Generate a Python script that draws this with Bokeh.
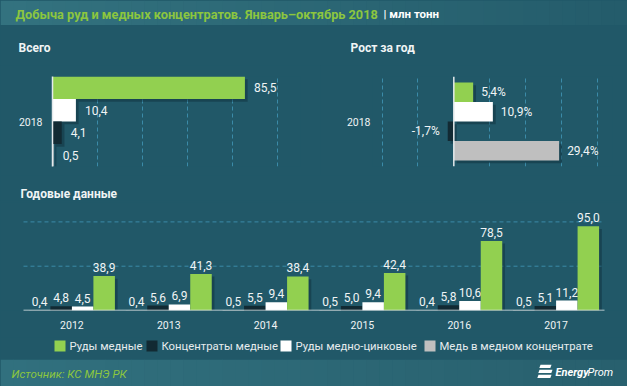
import numpy as np
from bokeh.plotting import figure
from bokeh.models import (ColumnDataSource, FactorRange, Range1d, FixedTicker, Grid, Span)
from bokeh.transform import dodge
from bokeh.layouts import column, row
from bokeh.core.properties import value
from bokeh.embed import file_html
from bokeh.resources import INLINE

# ---------------- data ----------------
title_main = "Добыча руд и медных концентратов. Январь–октябрь 2018"
title_unit = "| млн тонн"
panel_total = "Всего"
panel_growth = "Рост за год"
panel_annual = "Годовые данные"
source_note = "Источник: КС МНЭ РК"
brand_a = "Energy"
brand_b = "Prom"

series = ["Руды медные", "Концентраты медные", "Руды медно-цинковые", "Медь в медном концентрате"]
period = ["2018"]
total_2018 = [85.5, 4.1, 10.4, 0.5]      # ore, conc, cuzn, cu
growth_2018 = [5.4, -1.7, 10.9, 29.4]    # ore, conc, cuzn, cu

years = ["2012", "2013", "2014", "2015", "2016", "2017"]
ore_copper = [38.9, 41.3, 38.4, 42.4, 78.5, 95.0]
conc_copper = [4.8, 5.6, 5.5, 5.0, 5.8, 5.1]
ore_cuzn = [4.5, 6.9, 9.4, 9.4, 10.6, 11.2]
cu_in_conc = [0.4, 0.4, 0.5, 0.5, 0.4, 0.5]

total_ticks = [20, 40, 60, 80, 100]
growth_ticks = [-20, -10, 10, 20, 30, 40]
annual_ticks = [50, 100]

# ---------------- style ----------------
BG = "#215868"
GREEN = "#92d050"
DARK = "#122a33"
WHITE = "#ffffff"
GRAY = "#bfbfbf"
GRID = "#3b8ba8"
TXT = "#f0f4f5"
AXIS = "#e4eaec"
TITLE_GREEN = "#8cc63f"
SHADOW = "#08202a"
FONT = "Roboto"
W = 627
keys = ["ore", "conc", "cuzn", "cu"]
colors = {"ore": GREEN, "conc": DARK, "cuzn": WHITE, "cu": GRAY}


def fmt(v, suffix=""):
    return f"{v:.1f}".replace(".", ",") + suffix


def base(width, height, **kw):
    p = figure(width=width, height=height, output_backend="svg",
               toolbar_location=None, **kw)
    p.background_fill_color = BG
    p.border_fill_color = BG
    p.outline_line_color = None
    return p


def strip(width, height):
    return base(width, height, x_range=Range1d(0, width), y_range=Range1d(0, height),
                x_axis_type=None, y_axis_type=None, min_border=0)


def gradient(p, width, height, c0, c1, n=48):
    edges = np.linspace(0, width, n + 1)
    a = np.array([int(c0[i:i + 2], 16) for i in (1, 3, 5)], dtype=float)
    b = np.array([int(c1[i:i + 2], 16) for i in (1, 3, 5)], dtype=float)
    cols = ["#%02x%02x%02x" % tuple(int(round(v)) for v in a + (b - a) * t)
            for t in np.linspace(0, 1, n)]
    p.quad(left=edges[:-1], right=edges[1:] + 0.5, bottom=0, top=height,
           fill_color=cols, line_color=None)


def style_text(**kw):
    d = dict(text_font=value(FONT), text_color=TXT, text_font_size="12px")
    d.update(kw)
    return d


def style_cat_axis(ax, standoff, line_color):
    ax.axis_line_color = line_color
    ax.axis_line_width = 1.5
    ax.major_tick_line_color = None
    ax.minor_tick_line_color = None
    ax.major_tick_out = 0
    ax.major_tick_in = 0
    ax.major_label_standoff = standoff
    ax.major_label_text_font = FONT
    ax.major_label_text_font_size = "10.5px"
    ax.major_label_text_color = TXT


# ---------------- header ----------------
hdr = strip(W, 25)
gradient(hdr, W, 25, "#33727f", "#245c6b")
hdr.text(x=[15], y=[11.5], text=[title_main],
         **style_text(text_color=TITLE_GREEN, text_font_style="bold",
                      text_font_size="12.75px", text_baseline="middle"))
hdr.text(x=[383], y=[11.5], text=[title_unit],
         **style_text(text_color=WHITE, text_font_style="bold",
                      text_font_size="11.5px", text_baseline="middle"))

# ---------------- panel titles ----------------
sub = strip(W, 40)
sub.text(x=[18, 350], y=[18, 18], text=[panel_total, panel_growth],
         **style_text(text_font_style="bold", text_baseline="middle"))

# ---------------- total 2018 ----------------
src_t = ColumnDataSource(dict(p=period, **{k: [v] for k, v in zip(keys, total_2018)},
                              **{k + "_l": [fmt(v)] for k, v in zip(keys, total_2018)}))
tl = base(320, 110, x_range=Range1d(0, 110.2), y_range=FactorRange(factors=period, range_padding=0),
          x_axis_type=None, min_border_left=52, min_border_right=20,
          min_border_top=11, min_border_bottom=9)
tl.ygrid.visible = False
tl.add_layout(Grid(dimension=0, ticker=FixedTicker(ticks=total_ticks), grid_line_color=GRID,
                   grid_line_dash="4 3", grid_line_width=1))
tl_order = [("ore", 0.375), ("cuzn", 0.125), ("conc", -0.125), ("cu", -0.375)]
for k, off in tl_order:
    tl.hbar(y=dodge("p", off - 0.03, range=tl.y_range), left=1.2, right=dodge(k, 1.2),
            height=0.25, source=src_t, fill_color=SHADOW, fill_alpha=0.35, line_color=None)
for k, off in tl_order:
    tl.hbar(y=dodge("p", off, range=tl.y_range), left=0, right=k, height=0.25,
            source=src_t, fill_color=colors[k], line_color=None)
    tl.text(x=k, y=dodge("p", off, range=tl.y_range), text=k + "_l", source=src_t,
            x_offset=9, **style_text(text_baseline="middle", text_align="left"))
style_cat_axis(tl.yaxis[0], 10, AXIS)

# ---------------- growth 2018 ----------------
src_g = ColumnDataSource(dict(p=period, **{k: [v] for k, v in zip(keys, growth_2018)},
                              **{k + "_l": [fmt(v, "%")] for k, v in zip(keys, growth_2018)}))
tr = base(307, 110, x_range=Range1d(-22.7, 44.3), y_range=FactorRange(factors=period, range_padding=0),
          x_axis_type=None, min_border_left=52, min_border_right=15,
          min_border_top=11, min_border_bottom=9)
tr.ygrid.visible = False
tr.add_layout(Grid(dimension=0, ticker=FixedTicker(ticks=growth_ticks), grid_line_color=GRID,
                   grid_line_dash="4 3", grid_line_width=1))
h_g = 0.217
tr_order = [("ore", 0.325), ("cuzn", 0.108), ("conc", -0.108), ("cu", -0.325)]
for k, off in tr_order:
    tr.hbar(y=dodge("p", off - 0.03, range=tr.y_range), left=0.8, right=dodge(k, 0.8),
            height=h_g, source=src_g, fill_color=SHADOW, fill_alpha=0.35, line_color=None)
for k, off in tr_order:
    tr.hbar(y=dodge("p", off, range=tr.y_range), left=0, right=k, height=h_g,
            source=src_g, fill_color=colors[k], line_color=None)
    v = growth_2018[keys.index(k)]
    tr.text(x=k, y=dodge("p", off, range=tr.y_range), text=k + "_l", source=src_g,
            x_offset=(8 if v >= 0 else -8),
            **style_text(text_baseline="middle", text_align=("left" if v >= 0 else "right")))
tr.add_layout(Span(location=0, dimension="height", line_color=AXIS, line_width=1.5))
style_cat_axis(tr.yaxis[0], 2, None)

# ---------------- annual title ----------------
sub2 = strip(W, 25)
sub2.text(x=[20], y=[7], text=[panel_annual],
          **style_text(text_font_style="bold", text_baseline="middle"))

# ---------------- annual data ----------------
ann = {"ore": ore_copper, "conc": conc_copper, "cuzn": ore_cuzn, "cu": cu_in_conc}
src_a = ColumnDataSource(dict(year=years, **ann,
                              **{k + "_l": [fmt(v) for v in vals] for k, vals in ann.items()}))
bt = base(W, 137, x_range=FactorRange(factors=years, range_padding=0.2375,
                                      range_padding_units="absolute"),
          y_range=Range1d(0, 121.9), y_axis_type=None,
          min_border_left=0, min_border_right=0, min_border_top=2, min_border_bottom=27)
bt.xgrid.visible = False
# dashed value gridlines limited to the category span
bt.multi_line(xs=[[0, len(years)] for _ in annual_ticks], ys=[[t, t] for t in annual_ticks],
              line_color=GRID, line_dash="4 3", line_width=1)
bw = 0.222
bt_order = [("cu", -0.333), ("conc", -0.111), ("cuzn", 0.111), ("ore", 0.333)]
for k, off in bt_order:
    bt.vbar(x=dodge("year", off + 0.028, range=bt.x_range), top=dodge(k, -3.0), bottom=-5,
            width=bw, source=src_a, fill_color=SHADOW, fill_alpha=0.35, line_color=None)
for k, off in bt_order:
    bt.vbar(x=dodge("year", off, range=bt.x_range), top=k, bottom=0, width=bw,
            source=src_a, fill_color=colors[k], line_color=None)
    bt.text(x=dodge("year", off, range=bt.x_range), y=k, text=k + "_l", source=src_a,
            y_offset=-4, **style_text(text_baseline="bottom", text_align="center"))
# baseline across the category span
bt.line(x=[0, len(years)], y=[0, 0], line_color=AXIS, line_width=1.5)
style_cat_axis(bt.xaxis[0], 10, None)

# ---------------- legend (swatches + labels) ----------------
lg = strip(W, 22)
leg_x = [54, 146, 280, 424]
src_l = ColumnDataSource(dict(x=leg_x, name=series, color=[colors[k] for k in keys]))
lg.rect(x=dodge("x", 5.5), y=13.5, width=11, height=11, source=src_l,
        fill_color="color", line_color=None)
lg.text(x=dodge("x", 15), y=13.5, text="name", source=src_l,
        **style_text(text_color="#e6ecee", text_baseline="middle", text_font_size="11.3px"))

# ---------------- footer ----------------
ft = strip(W, 27)
gradient(ft, W, 27, "#31707e", "#28606e")
ft.text(x=[11], y=[13], text=[source_note],
        **style_text(text_color=TITLE_GREEN, text_font_style="italic",
                     text_font_size="11.5px", text_baseline="middle"))
icon_xs, icon_ys = [], []
for i, (yb, w0) in enumerate([(18.5, 11), (13.5, 13), (8.5, 13)]):
    x0 = 540 - i * 1.0
    icon_xs.append([x0, x0 + w0, x0 + w0 - 1.2, x0 - 1.2])
    icon_ys.append([yb + 3.2, yb + 3.2, yb, yb])
ft.patches(xs=icon_xs, ys=icon_ys, fill_color=WHITE, line_color=None)
ft.text(x=[555], y=[14.5], text=[brand_a],
        **style_text(text_color=WHITE, text_font_style="bold italic",
                     text_font_size="11px", text_baseline="middle"))
ft.text(x=[587], y=[14.5], text=[brand_b],
        **style_text(text_color=WHITE, text_font_style="italic",
                     text_font_size="11px", text_baseline="middle", text_align="left"))

layout = column(hdr, sub, row(tl, tr, spacing=0, styles={"background-color": BG}),
                sub2, bt, lg, ft, spacing=0, styles={"background-color": BG})

open("out.html", "w").write(file_html(layout, INLINE))
